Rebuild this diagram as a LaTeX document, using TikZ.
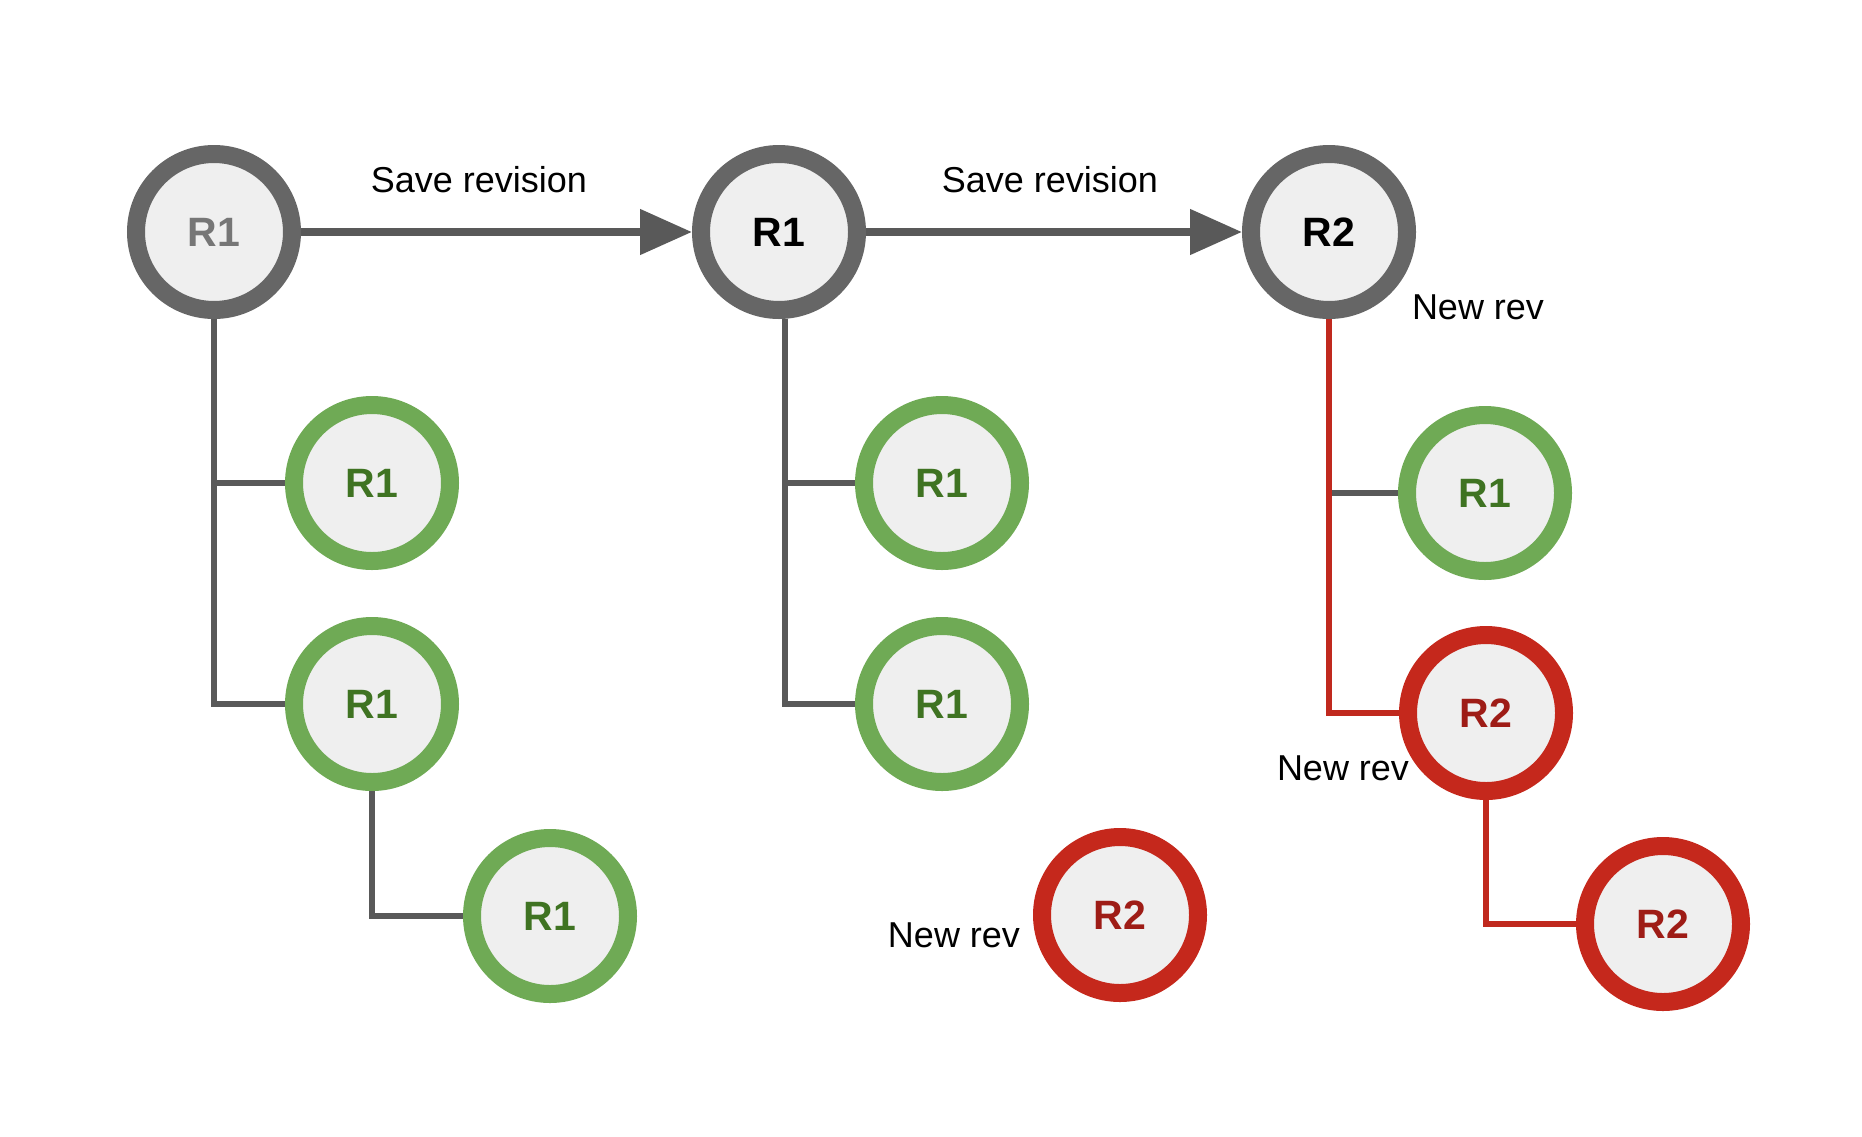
\documentclass[tikz,border=0pt]{standalone}
\usepackage{fontspec}
\setmainfont{Liberation Sans}
\usetikzlibrary{arrows.meta,positioning}

\definecolor{nodefill}{HTML}{EFEFEF}
\definecolor{ringgray}{HTML}{666666}
\definecolor{linkgray}{HTML}{595959}
\definecolor{ringgreen}{HTML}{6FAA55}
\definecolor{textgreen}{HTML}{3F7322}
\definecolor{ringred}{HTML}{C5281C}
\definecolor{linkred}{HTML}{C0291E}
\definecolor{textred}{HTML}{9E1C16}
\definecolor{textgray}{HTML}{767676}

\tikzset{
	rev/.style={circle, fill=nodefill, line width=9pt, minimum size=78pt, inner sep=0pt,
		font=\fontsize{20.5}{24}\selectfont\bfseries},
	grayrev/.style={rev, draw=ringgray},
	greenrev/.style={rev, draw=ringgreen, text=textgreen},
	redrev/.style={rev, draw=ringred, text=textred},
	link/.style={line width=2.6pt, draw=linkgray},
	redlink/.style={link, draw=linkred},
	save/.style={line width=4pt, draw=linkgray, -{Triangle[length=26pt,width=22pt]}},
	note/.style={font=\fontsize{18}{22}\selectfont, text=black, inner sep=0pt}
}

\begin{document}
\begin{tikzpicture}[x=0.5pt,y=-0.5pt]
	\useasboundingbox (0,0) rectangle (1862,1136);
	% top row
	\node[grayrev, text=textgray] (C1) at (214,232) {R1};
	\node[grayrev] (C2) at (779,232) {R1};
	\node[grayrev] (C3) at (1329,232) {R2};
	\node[note] (save1) at (479,180) {Save revision};
	\node[note] (save2) at (1050,180) {Save revision};
	\draw[save] (C1.east) -- (C2.west);
	\draw[save] (C2.east) -- (C3.west);
	% first tree
	\node[greenrev] (G1) at (372,483) {R1};
	\node[greenrev] (G2) at (372,704) {R1};
	\node[greenrev] (G3) at (550,916) {R1};
	\draw[link] (C1.south) |- (G2.west);
	\draw[link] (C1.south |- G1.west) -- (G1.west);
	\draw[link] (G2.south) |- (G3.west);
	% second tree
	\coordinate (C2foot) at ([xshift=3pt]C2.south);
	\node[greenrev] (G4) at (942,483) {R1};
	\node[greenrev] (G5) at (942,704) {R1};
	\node[redrev] (R1) at (1120,915) {R2};
	\node[note] (new3) at (954,935) {New rev};
	\draw[link] (C2foot) |- (G5.west);
	\draw[link] (C2foot |- G4.west) -- (G4.west);
	% third tree
	\node[greenrev] (G6) at (1485,493) {R1};
	\node[redrev] (R2) at (1486,713) {R2};
	\node[redrev] (R3) at (1663,924) {R2};
	\node[note] (new1) at (1478,307) {New rev};
	\node[note] (new2) at (1343,768) {New rev};
	\draw[link] (C3.south |- G6.west) -- (G6.west);
	\draw[redlink] (C3.south) |- (R2.west);
	\draw[redlink] (R2.south) |- (R3.west);
\end{tikzpicture}
\end{document}
